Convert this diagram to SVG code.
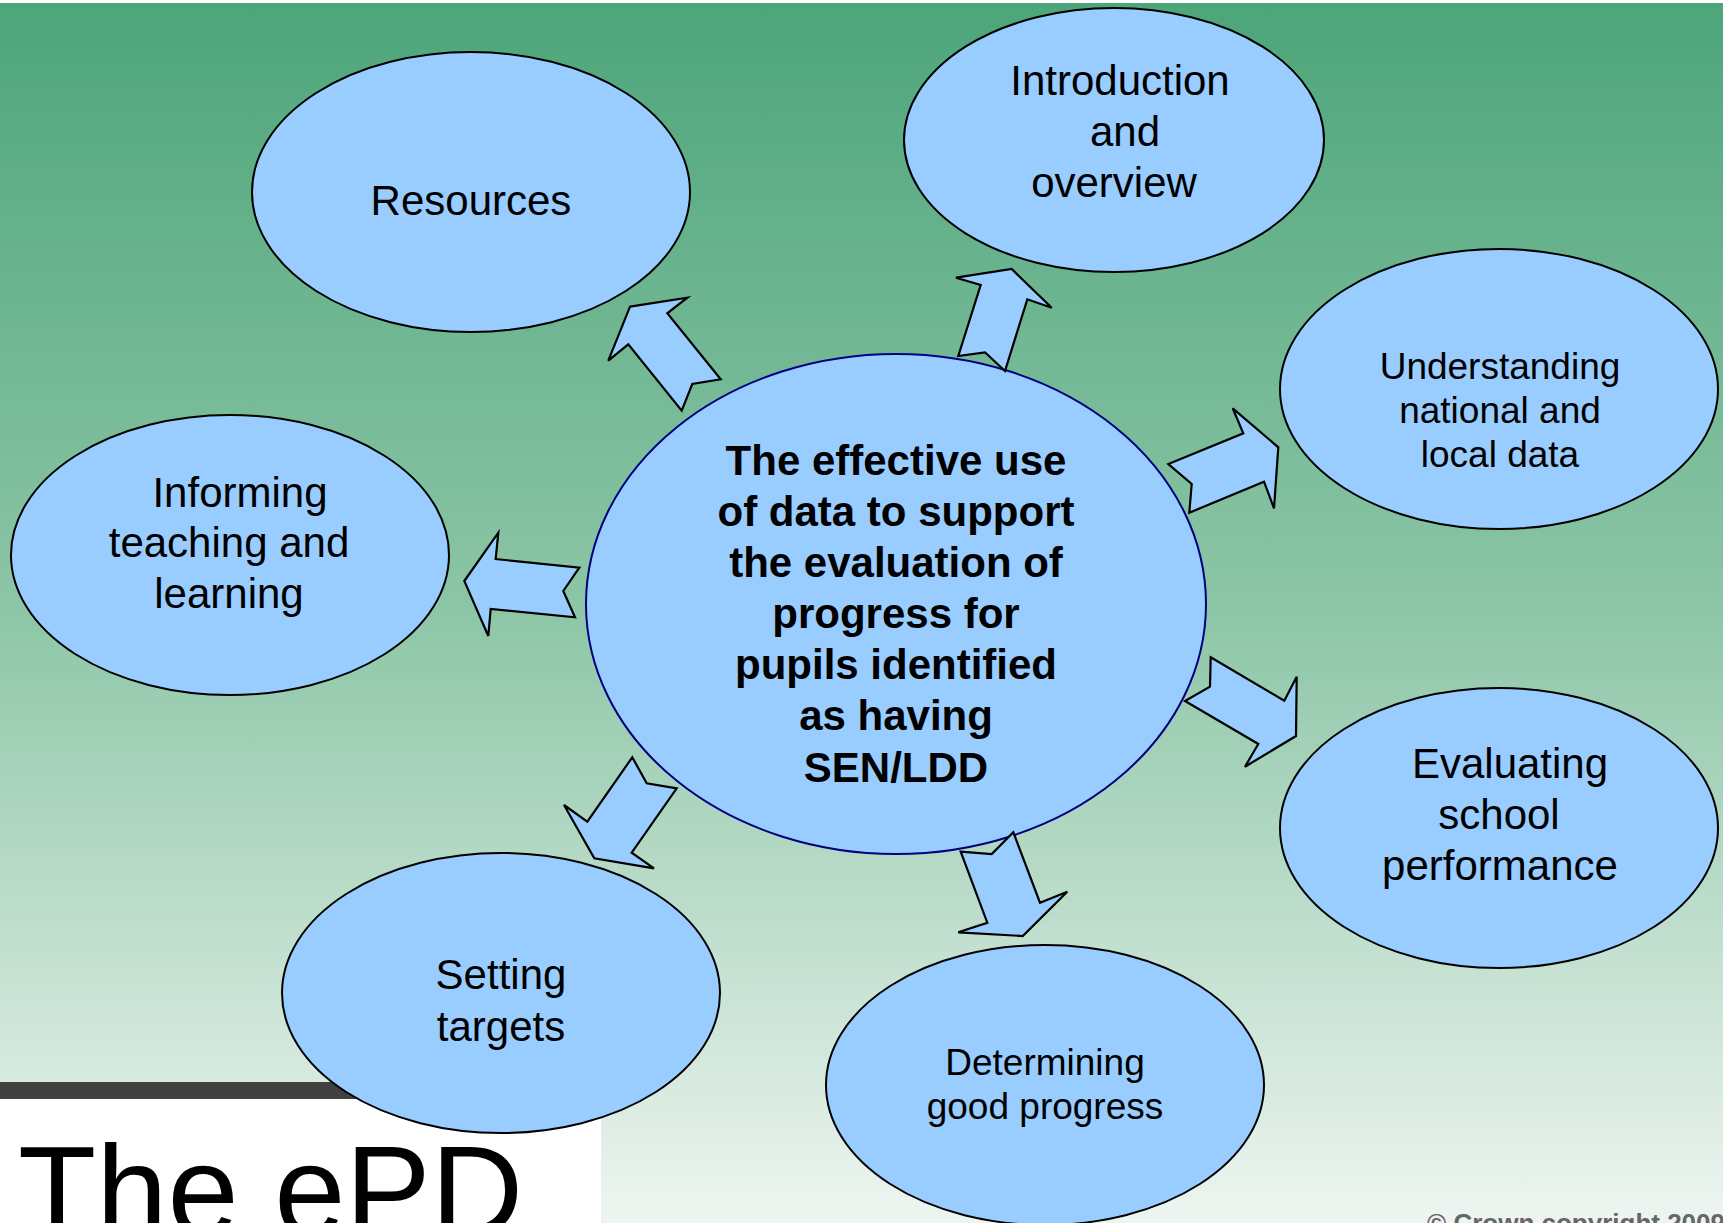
<svg xmlns="http://www.w3.org/2000/svg" width="1723" height="1223" viewBox="0 0 1723 1223">
<defs>
<linearGradient id="bg" x1="0" y1="0" x2="0" y2="1">
<stop offset="0" stop-color="#4da57a"/>
<stop offset="0.5" stop-color="#8dc6a7"/>
<stop offset="1" stop-color="#eef5f1"/>
</linearGradient>
<style>
.node{fill:#99ccff;stroke:#000;stroke-width:2}
.center{fill:#99ccff;stroke:#000080;stroke-width:2}
.arrow{fill:#99ccff;stroke:#000;stroke-width:2.2;stroke-linejoin:miter}
.t{font-family:"Liberation Sans",Arial,sans-serif;font-size:42px;fill:#000;text-anchor:middle}
.s{font-size:37px}
.b{font-weight:bold}
</style>
</defs>
<rect x="0" y="0" width="1723" height="1223" fill="#ffffff"/>
<rect x="0" y="3" width="1723" height="1220" fill="url(#bg)"/>
<rect x="0" y="1082" width="601" height="17" fill="#404040"/>
<rect x="0" y="1099" width="601" height="124" fill="#ffffff"/>
<text x="18" y="1235" font-family="Liberation Sans,Arial,sans-serif" font-size="128" fill="#000">The ePD</text>
<text x="1427" y="1232" font-family="Liberation Sans,Arial,sans-serif" font-size="26" font-weight="bold" fill="#666666">© Crown copyright 2009</text>

<g id="node-resources">
<ellipse class="node" cx="471" cy="192" rx="219" ry="140"/>
<text class="t" x="471" y="215">Resources</text>
</g>
<g id="node-introduction">
<ellipse class="node" cx="1114" cy="140" rx="210" ry="132"/>
<text class="t" x="1120" y="95">Introduction</text>
<text class="t" x="1125" y="146">and</text>
<text class="t" x="1114" y="197">overview</text>
</g>
<g id="node-understanding">
<ellipse class="node" cx="1499" cy="389" rx="219" ry="140"/>
<text class="t s" x="1500" y="379">Understanding</text>
<text class="t s" x="1500" y="423">national and</text>
<text class="t s" x="1500" y="467">local data</text>
</g>
<g id="node-informing">
<ellipse class="node" cx="230" cy="555" rx="219" ry="140"/>
<text class="t" x="240" y="507">Informing</text>
<text class="t" x="229" y="557">teaching and</text>
<text class="t" x="229" y="608">learning</text>
</g>
<g id="node-evaluating">
<ellipse class="node" cx="1499" cy="828" rx="219" ry="140"/>
<text class="t" x="1510" y="778">Evaluating</text>
<text class="t" x="1499" y="829">school</text>
<text class="t" x="1500" y="880">performance</text>
</g>
<g id="node-setting">
<ellipse class="node" cx="501" cy="993" rx="219" ry="140"/>
<text class="t" x="501" y="989">Setting</text>
<text class="t" x="501" y="1041">targets</text>
</g>
<g id="node-determining">
<ellipse class="node" cx="1045" cy="1085" rx="219" ry="140"/>
<text class="t s" x="1045" y="1075">Determining</text>
<text class="t s" x="1045" y="1119">good progress</text>
</g>
<g id="node-center">
<ellipse class="center" cx="896" cy="604" rx="310" ry="250"/>
<text class="t b" x="896" y="475">The effective use</text>
<text class="t b" x="896" y="526">of data to support</text>
<text class="t b" x="896" y="577">the evaluation of</text>
<text class="t b" x="896" y="628">progress for</text>
<text class="t b" x="896" y="679">pupils identified</text>
<text class="t b" x="896" y="730">as having</text>
<text class="t b" x="896" y="782">SEN/LDD</text>
</g>

<g id="connectors">
<polygon class="arrow" points="630,306.7 687.3,297.7 667.3,313.3 720.7,379.3 692.3,384 681.7,410.7 628.3,344.3 608.3,360.7"/>
<polygon class="arrow" points="956,277.7 1011.7,269 1051.7,307.7 1027.3,299.3 1005,371 985,352.3 958.3,356 980.7,285"/>
<polygon class="arrow" points="1232.7,408.3 1278.3,447.3 1274,508.3 1264,481.7 1189.3,512.7 1191.7,484 1168.3,464 1243.3,433.3"/>
<polygon class="arrow" points="464.3,581 498.3,532.7 495.7,559 579.3,567.7 563.3,591 575,617.3 490.7,609 488.3,636"/>
<polygon class="arrow" points="1210.7,657.3 1284.3,700.7 1296.7,676.7 1296,736 1245,766.7 1258.3,744 1185,701 1210,686.7"/>
<polygon class="arrow" points="632.3,757.3 646.7,783.3 676.7,788.3 631.7,852.7 654,868.3 594.3,858.3 564,805 587.3,821.7"/>
<polygon class="arrow" points="960.7,851.7 991.7,854 1013.3,832.3 1040,902.7 1067.3,891.7 1022.7,936 958.3,932.3 987.3,922.7"/>
</g>
</svg>
